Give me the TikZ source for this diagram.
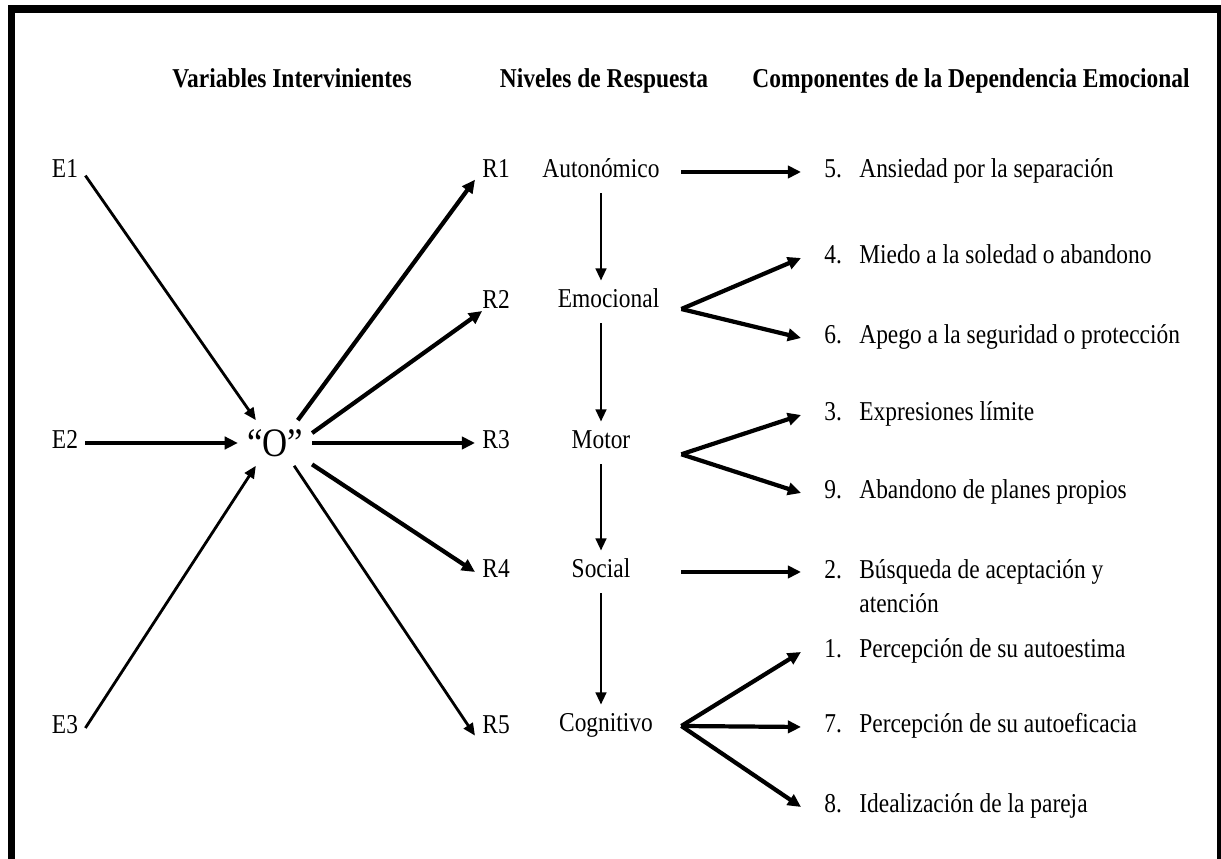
\documentclass[tikz,border=0pt]{standalone}
\usepackage{fontspec}
\setmainfont{Liberation Serif}[FakeStretch=0.86]
\usetikzlibrary{arrows.meta,positioning}

\begin{document}
\begin{tikzpicture}[
    font=\fontsize{15.5}{19.4}\selectfont,
    txt/.style={inner xsep=4pt, inner ysep=0pt, text height=1.6ex, text depth=0.3ex},
    head/.style={txt, font=\fontsize{15.5}{19.4}\selectfont\bfseries},
    levelnode/.style={txt, minimum width=3.2cm, minimum height=0.84cm},
    compnode/.style={txt, anchor=west, inner xsep=0.46cm},
    arrow/.style={-{Triangle[length=7pt,width=6pt]}, line width=1.6pt},
    thickarrow/.style={-{Triangle[length=7.5pt,width=7pt]}, line width=2.4pt}
]
    \useasboundingbox (0,0) rectangle (24.42,17.18);
    \clip (0,0) rectangle (24.42,17.18);
    \draw[line width=4pt] (0.23,-0.5) |- (24.41,17.0) -- (24.41,-0.5);

    % Headers
    \node[head] (h1) at (5.84, 15.54) {Variables Intervinientes};
    \node[head] (h2) at (12.08, 15.54) {Niveles de Respuesta};
    \node[head] (h3) at (19.42, 15.54) {Componentes de la Dependencia Emocional};

    % Stimuli and organism
    \node[txt] (e1) at (1.30, 13.74) {E1};
    \node[txt] (e2) at (1.30, 8.32) {E2};
    \node[txt] (e3) at (1.30, 2.62) {E3};
    \node[inner sep=5pt, font=\fontsize{23}{27}\selectfont] (o) at (5.50, 8.32) {``O''};

    \draw[arrow] (e1.-10) -- (o.130);
    \draw[thickarrow] (e2) -- (o);
    \draw[arrow] (e3.east) -- (o.230);

    % Responses
    \node[txt, anchor=west] (r1) at (9.50, 13.74) {R1};
    \node[txt, anchor=west] (r2) at (9.50, 11.12) {R2};
    \node[txt, anchor=west] (r3) at (9.50, 8.32) {R3};
    \node[txt, anchor=west] (r4) at (9.50, 5.74) {R4};
    \node[txt, anchor=west] (r5) at (9.50, 2.62) {R5};

    \draw[thickarrow] (o.45) -- (r1.200);
    \draw[thickarrow] (o.15) -- (r2.210);
    \draw[thickarrow] (o) -- (r3);
    \draw[thickarrow] (o.-30) -- (r4.west);
    \draw[arrow] (o.-50) -- (r5.200);

    % Response levels
    \node[levelnode] (aut) at (12.02, 13.74) {Autonómico};
    \node[levelnode] (emo) at (12.02, 11.14) {\hspace{0.3cm}Emocional};
    \node[levelnode] (mot) at (12.02, 8.32) {Motor};
    \node[levelnode] (soc) at (12.02, 5.74) {Social};
    \node[levelnode] (cog) at (12.02, 2.66) {\hspace{0.2cm}Cognitivo};

    \draw[arrow] (aut) -- (emo);
    \draw[arrow] (emo) -- (mot);
    \draw[arrow] (mot) -- (soc);
    \draw[arrow] (soc) -- (cog);

    % Components
    \node[compnode] (c5) at (16.02, 13.74) {\makebox[0.7cm][l]{5.}Ansiedad por la separación};
    \node[compnode] (c4) at (16.02, 12.02) {\makebox[0.7cm][l]{4.}Miedo a la soledad o abandono};
    \node[compnode] (c6) at (16.02, 10.42) {\makebox[0.7cm][l]{6.}Apego a la seguridad o protección};
    \node[compnode] (c3) at (16.02, 8.88) {\makebox[0.7cm][l]{3.}Expresiones límite};
    \node[compnode] (c9) at (16.02, 7.32) {\makebox[0.7cm][l]{9.}Abandono de planes propios};
    \node[compnode] (c2) at (16.02, 5.72) {\begin{tabular}[t]{@{}p{0.7cm}@{}l@{}}2.&Búsqueda de aceptación y\\&atención\end{tabular}};
    \node[compnode] (c1) at (16.02, 4.14) {\makebox[0.7cm][l]{1.}Percepción de su autoestima};
    \node[compnode] (c7) at (16.02, 2.64) {\makebox[0.7cm][l]{7.}Percepción de su autoeficacia};
    \node[compnode] (c8) at (16.02, 1.04) {\makebox[0.7cm][l]{8.}Idealización de la pareja};

    \coordinate (fk2) at (emo.-5);
    \coordinate (fk3) at (mot.-8.5);

    \draw[thickarrow] (aut.east) -- (c5.west);
    \draw[thickarrow] (fk2) -- (c4.west);
    \draw[thickarrow] (fk2) -- (c6.west);
    \draw[thickarrow] (fk3) -- (c3.west);
    \draw[thickarrow] (fk3) -- (c9.west);
    \draw[thickarrow] (soc.east) -- (soc.east -| c2.west);
    \draw[thickarrow] (cog.east) -- (c1.west);
    \draw[thickarrow] (cog.east) -- (c7.west);
    \draw[thickarrow] (cog.east) -- (c8.west);
\end{tikzpicture}
\end{document}
